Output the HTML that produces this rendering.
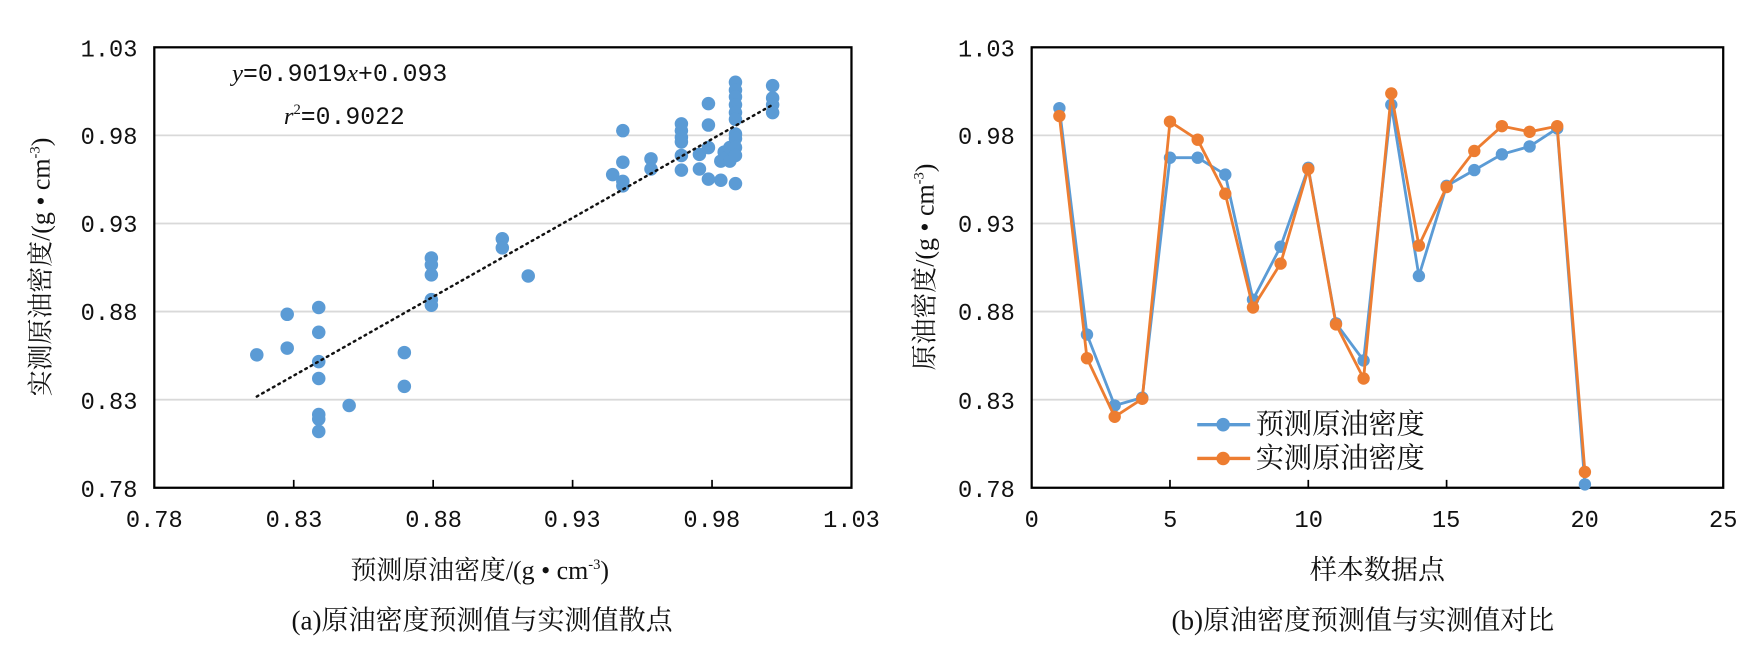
<!DOCTYPE html>
<html><head><meta charset="utf-8"><style>
html,body{margin:0;padding:0;background:#fff;}
svg{display:block;}
text{font-family:"Liberation Serif","Noto Serif CJK SC",serif;fill:#111;}
.m{font-family:"Liberation Mono","Noto Serif CJK SC",monospace;}
</style></head><body>
<svg width="1757" height="668" viewBox="0 0 1560 593" preserveAspectRatio="none" xmlns="http://www.w3.org/2000/svg">
<rect width="1560" height="593" fill="#fff"/>
<!-- LEFT -->
<g stroke="#d9d9d9" stroke-width="1.6">
<line x1="137" y1="120.2" x2="756" y2="120.2"/><line x1="137" y1="198.4" x2="756" y2="198.4"/>
<line x1="137" y1="276.6" x2="756" y2="276.6"/><line x1="137" y1="354.8" x2="756" y2="354.8"/>
</g>
<rect x="137" y="42" width="619" height="391" fill="none" stroke="#000" stroke-width="2"/>
<g stroke="#000" stroke-width="1.5"><line x1="260.8" y1="433" x2="260.8" y2="426"/><line x1="384.6" y1="433" x2="384.6" y2="426"/><line x1="508.4" y1="433" x2="508.4" y2="426"/><line x1="632.2" y1="433" x2="632.2" y2="426"/></g>
<g class="m" font-size="21" text-anchor="end">
<text class="m" x="122" y="50">1.03</text><text class="m" x="122" y="128">0.98</text><text class="m" x="122" y="206">0.93</text><text class="m" x="122" y="284">0.88</text><text class="m" x="122" y="363">0.83</text><text class="m" x="122" y="441">0.78</text>
</g>
<g font-size="21" text-anchor="middle">
<text class="m" x="137" y="468">0.78</text><text class="m" x="261" y="468">0.83</text><text class="m" x="385" y="468">0.88</text><text class="m" x="508" y="468">0.93</text><text class="m" x="632" y="468">0.98</text><text class="m" x="756" y="468">1.03</text>
</g>
<text x="426" y="514" font-size="23" text-anchor="middle">预测原油密度/(g • cm<tspan font-size="13" dy="-9">-3</tspan><tspan dy="9">)</tspan></text>
<text x="428" y="559" font-size="24" text-anchor="middle">(a)原油密度预测值与实测值散点</text>
<text transform="translate(44,237) rotate(-90)" font-size="23" text-anchor="middle">实测原油密度/(g • cm<tspan font-size="13" dy="-9">-3</tspan><tspan dy="9">)</tspan></text>
<text x="206" y="72" font-size="22"><tspan font-style="italic">y</tspan><tspan class="m">=0.9019</tspan><tspan font-style="italic">x</tspan><tspan class="m">+0.093</tspan></text>
<text x="252" y="110" font-size="22"><tspan font-style="italic">r</tspan><tspan font-size="13" dy="-9">2</tspan><tspan class="m" dy="9">=0.9022</tspan></text>
<g fill="#5b9bd5">
<circle cx="228" cy="315" r="6"/>
<circle cx="255" cy="279" r="6"/><circle cx="255" cy="309" r="6"/>
<circle cx="283" cy="273" r="6"/><circle cx="283" cy="295" r="6"/><circle cx="283" cy="321" r="6"/><circle cx="283" cy="336" r="6"/><circle cx="283" cy="368" r="6"/><circle cx="283" cy="372" r="6"/><circle cx="283" cy="383" r="6"/>
<circle cx="310" cy="360" r="6"/>
<circle cx="359" cy="313" r="6"/><circle cx="359" cy="343" r="6"/>
<circle cx="383" cy="229" r="6"/><circle cx="383" cy="235" r="6"/><circle cx="383" cy="244" r="6"/><circle cx="383" cy="266" r="6"/><circle cx="383" cy="271" r="6"/>
<circle cx="446" cy="212" r="6"/><circle cx="446" cy="220" r="6"/>
<circle cx="469" cy="245" r="6"/>
<circle cx="544" cy="155" r="6"/>
<circle cx="553" cy="116" r="6"/><circle cx="553" cy="144" r="6"/><circle cx="553" cy="161" r="6"/><circle cx="553" cy="165" r="6"/>
<circle cx="578" cy="141" r="6"/><circle cx="578" cy="150" r="6"/>
<circle cx="605" cy="110" r="6"/><circle cx="605" cy="116" r="6"/><circle cx="605" cy="122" r="6"/><circle cx="605" cy="126" r="6"/><circle cx="605" cy="138" r="6"/><circle cx="605" cy="151" r="6"/>
<circle cx="621" cy="137" r="6"/><circle cx="621" cy="150" r="6"/>
<circle cx="629" cy="92" r="6"/><circle cx="629" cy="111" r="6"/><circle cx="629" cy="131" r="6"/><circle cx="629" cy="159" r="6"/>
<circle cx="640" cy="143" r="6"/><circle cx="640" cy="160" r="6"/><circle cx="643" cy="135" r="6"/><circle cx="645" cy="140" r="6"/>
<circle cx="648" cy="131" r="6"/><circle cx="648" cy="143" r="6"/>
<circle cx="653" cy="73" r="6"/><circle cx="653" cy="80" r="6"/><circle cx="653" cy="86" r="6"/><circle cx="653" cy="93" r="6"/><circle cx="653" cy="100" r="6"/><circle cx="653" cy="106" r="6"/><circle cx="653" cy="119" r="6"/><circle cx="653" cy="123" r="6"/><circle cx="653" cy="131" r="6"/><circle cx="653" cy="138" r="6"/><circle cx="653" cy="163" r="6"/>
<circle cx="686" cy="76" r="6"/><circle cx="686" cy="87" r="6"/><circle cx="686" cy="93" r="6"/><circle cx="686" cy="100" r="6"/>
</g>
<line x1="228" y1="352" x2="686" y2="93" stroke="#111" stroke-width="2.2" stroke-dasharray="1.5,4" stroke-linecap="round"/>
<!-- RIGHT -->
<g stroke="#d9d9d9" stroke-width="1.6">
<line x1="916" y1="120.2" x2="1530" y2="120.2"/><line x1="916" y1="198.4" x2="1530" y2="198.4"/>
<line x1="916" y1="276.6" x2="1530" y2="276.6"/><line x1="916" y1="354.8" x2="1530" y2="354.8"/>
</g>
<rect x="916" y="42" width="614" height="391" fill="none" stroke="#000" stroke-width="2"/>
<g stroke="#000" stroke-width="1.5"><line x1="1038.8" y1="433" x2="1038.8" y2="426"/><line x1="1161.6" y1="433" x2="1161.6" y2="426"/><line x1="1284.4" y1="433" x2="1284.4" y2="426"/><line x1="1407.2" y1="433" x2="1407.2" y2="426"/></g>
<g font-size="21" text-anchor="end">
<text class="m" x="901" y="50">1.03</text><text class="m" x="901" y="128">0.98</text><text class="m" x="901" y="206">0.93</text><text class="m" x="901" y="284">0.88</text><text class="m" x="901" y="363">0.83</text><text class="m" x="901" y="441">0.78</text>
</g>
<g font-size="21" text-anchor="middle">
<text class="m" x="916" y="468">0</text><text class="m" x="1039" y="468">5</text><text class="m" x="1162" y="468">10</text><text class="m" x="1284" y="468">15</text><text class="m" x="1407" y="468">20</text><text class="m" x="1530" y="468">25</text>
</g>
<text x="1223" y="514" font-size="24" text-anchor="middle">样本数据点</text>
<text x="1210" y="559" font-size="24" text-anchor="middle">(b)原油密度预测值与实测值对比</text>
<text transform="translate(829,237) rotate(-90)" font-size="23" text-anchor="middle">原油密度/(g • cm<tspan font-size="13" dy="-9">-3</tspan><tspan dy="9">)</tspan></text>
<polyline fill="none" stroke="#5b9bd5" stroke-width="2.5" points="940.6,96 965.1,297 989.7,360 1014.2,353 1038.8,140 1063.4,140 1087.9,155 1112.5,266 1137,219 1161.6,149 1186.2,287 1210.7,320 1235.3,93 1259.8,245 1284.4,165 1309,151 1333.5,137 1358.1,130 1382.6,114 1407.2,430"/>
<g fill="#5b9bd5"><circle cx="940.6" cy="96" r="5.5"/><circle cx="965.1" cy="297" r="5.5"/><circle cx="989.7" cy="360" r="5.5"/><circle cx="1014.2" cy="353" r="5.5"/><circle cx="1038.8" cy="140" r="5.5"/><circle cx="1063.4" cy="140" r="5.5"/><circle cx="1087.9" cy="155" r="5.5"/><circle cx="1112.5" cy="266" r="5.5"/><circle cx="1137" cy="219" r="5.5"/><circle cx="1161.6" cy="149" r="5.5"/><circle cx="1186.2" cy="287" r="5.5"/><circle cx="1210.7" cy="320" r="5.5"/><circle cx="1235.3" cy="93" r="5.5"/><circle cx="1259.8" cy="245" r="5.5"/><circle cx="1284.4" cy="165" r="5.5"/><circle cx="1309" cy="151" r="5.5"/><circle cx="1333.5" cy="137" r="5.5"/><circle cx="1358.1" cy="130" r="5.5"/><circle cx="1382.6" cy="114" r="5.5"/><circle cx="1407.2" cy="430" r="5.5"/></g>
<polyline fill="none" stroke="#ed7d31" stroke-width="2.5" points="940.6,103 965.1,318 989.7,370 1014.2,354 1038.8,108 1063.4,124 1087.9,172 1112.5,273 1137,234 1161.6,150 1186.2,288 1210.7,336 1235.3,83 1259.8,218 1284.4,166 1309,134 1333.5,112 1358.1,117 1382.6,112 1407.2,419"/>
<g fill="#ed7d31"><circle cx="940.6" cy="103" r="5.5"/><circle cx="965.1" cy="318" r="5.5"/><circle cx="989.7" cy="370" r="5.5"/><circle cx="1014.2" cy="354" r="5.5"/><circle cx="1038.8" cy="108" r="5.5"/><circle cx="1063.4" cy="124" r="5.5"/><circle cx="1087.9" cy="172" r="5.5"/><circle cx="1112.5" cy="273" r="5.5"/><circle cx="1137" cy="234" r="5.5"/><circle cx="1161.6" cy="150" r="5.5"/><circle cx="1186.2" cy="288" r="5.5"/><circle cx="1210.7" cy="336" r="5.5"/><circle cx="1235.3" cy="83" r="5.5"/><circle cx="1259.8" cy="218" r="5.5"/><circle cx="1284.4" cy="166" r="5.5"/><circle cx="1309" cy="134" r="5.5"/><circle cx="1333.5" cy="112" r="5.5"/><circle cx="1358.1" cy="117" r="5.5"/><circle cx="1382.6" cy="112" r="5.5"/><circle cx="1407.2" cy="419" r="5.5"/></g>
<!-- legend -->
<line x1="1063" y1="377" x2="1110" y2="377" stroke="#5b9bd5" stroke-width="3"/><circle cx="1086" cy="377" r="6" fill="#5b9bd5"/>
<text x="1115" y="385" font-size="25">预测原油密度</text>
<line x1="1063" y1="407" x2="1110" y2="407" stroke="#ed7d31" stroke-width="3"/><circle cx="1086" cy="407" r="6" fill="#ed7d31"/>
<text x="1115" y="415" font-size="25">实测原油密度</text>
</svg>
</body></html>
